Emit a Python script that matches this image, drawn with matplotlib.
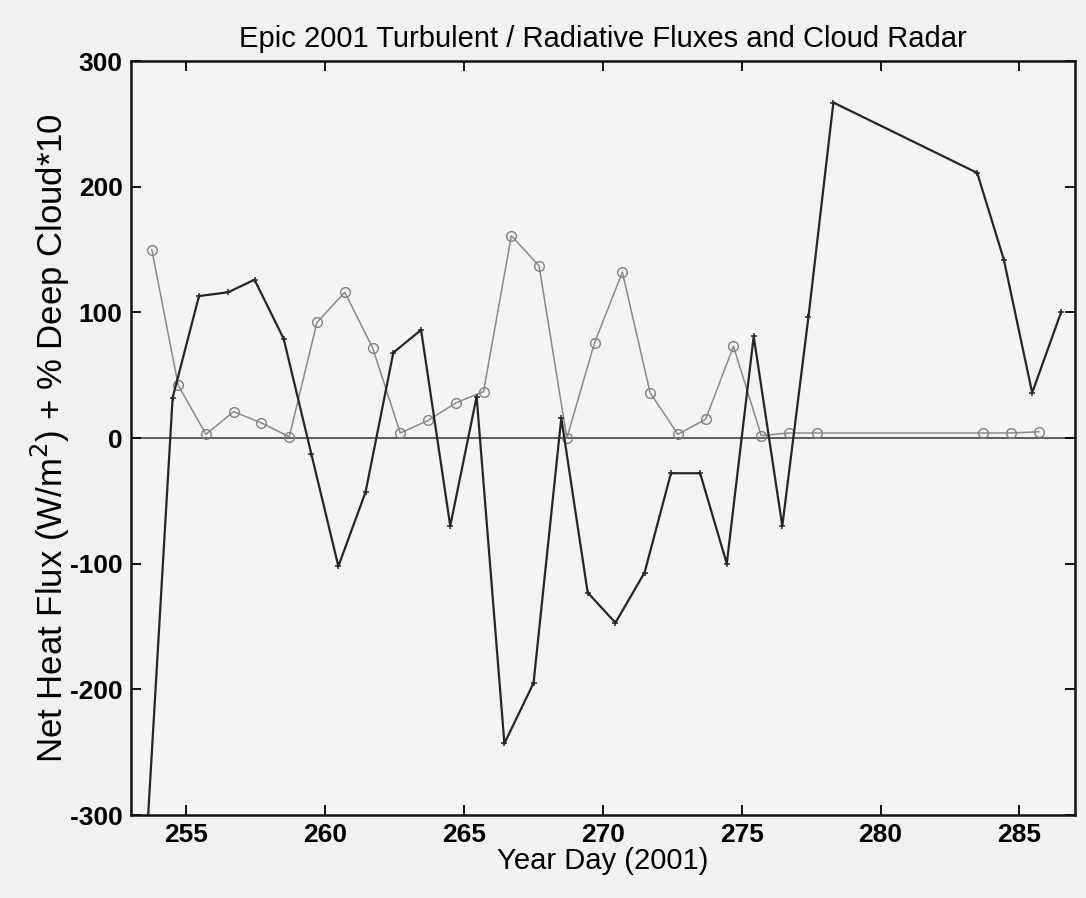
import matplotlib
matplotlib.use('Agg')
import matplotlib.pyplot as plt
import numpy as np

# net heat flux (W/m^2)
flux_day = [253.5, 254.5, 255.45, 256.5, 257.45, 258.5, 259.5, 260.47, 261.45, 262.45,
            263.45, 264.5, 265.45, 266.45, 267.5, 268.5, 269.45, 270.45, 271.5, 272.45,
            273.5, 274.46, 275.43, 276.46, 277.4, 278.3, 283.48, 284.44, 285.46, 286.5]
flux_val = [-345, 32, 113, 116, 126, 79, -13, -102, -43, 68,
            86, -70, 33, -243, -195, 16, -123, -147, -107, -28,
            -28, -100, 81, -70, 96, 267, 211, 142, 36, 100]

# % deep cloud * 10
cloud_day = [253.75, 254.7, 255.7, 256.7, 257.7, 258.7, 259.7, 260.7, 261.7, 262.7,
             263.7, 264.7, 265.7, 266.7, 267.7, 268.7, 269.7, 270.7, 271.7, 272.7,
             273.7, 274.7, 275.7, 276.7, 277.7, 283.7, 284.7, 285.7]
cloud_val = [150, 42, 3, 21, 12, 1, 92, 116, 72, 4,
             14, 28, 37, 161, 137, 0, 76, 132, 36, 3,
             15, 73, 2, 4, 4, 4, 4, 5]

XTICKS = [255, 260, 265, 270, 275, 280, 285]
YTICKS = [-300, -200, -100, 0, 100, 200, 300]

plt.rcParams['font.family'] = ['Liberation Sans', 'DejaVu Sans']
plt.rcParams['axes.unicode_minus'] = False

fig = plt.figure(figsize=(10.86, 8.98), dpi=100, facecolor='#f1f1f1')
ax = fig.add_axes([0.1206, 0.0924, 0.8692, 0.8396])
ax.set_facecolor('#f4f4f4')

ax.axhline(0, color='#333333', lw=1.1, zorder=1)
ax.plot(cloud_day, cloud_val, color='#8a8a8a', lw=1.1, marker='o', markersize=7,
        markerfacecolor='none', markeredgecolor='#808080', markeredgewidth=1.0, zorder=2)
ax.plot(flux_day, flux_val, color='#262626', lw=1.6, marker='+', markersize=5,
        markeredgewidth=1.1, zorder=3)

ax.set_xlim(253, 287)
ax.set_ylim(-300, 300)
ax.set_xticks(XTICKS)
ax.set_yticks(YTICKS)
ax.tick_params(direction='in', top=True, right=True, length=7, width=1.3,
               labelsize=19, pad=6)
for lab in ax.get_xticklabels() + ax.get_yticklabels():
    lab.set_fontweight('bold')
for s in ax.spines.values():
    s.set_linewidth(1.8)
    s.set_color('#111111')

ax.set_title('Epic 2001 Turbulent / Radiative Fluxes and Cloud Radar', fontsize=21, pad=10)
ax.set_xlabel('Year Day (2001)', fontsize=21, labelpad=0)
ax.set_ylabel('Net Heat Flux (W/m$^2$) + % Deep Cloud*10', fontsize=25)
ax.yaxis.set_label_coords(-0.063, 0.5)

fig.savefig('out.png', dpi=100, facecolor=fig.get_facecolor())
